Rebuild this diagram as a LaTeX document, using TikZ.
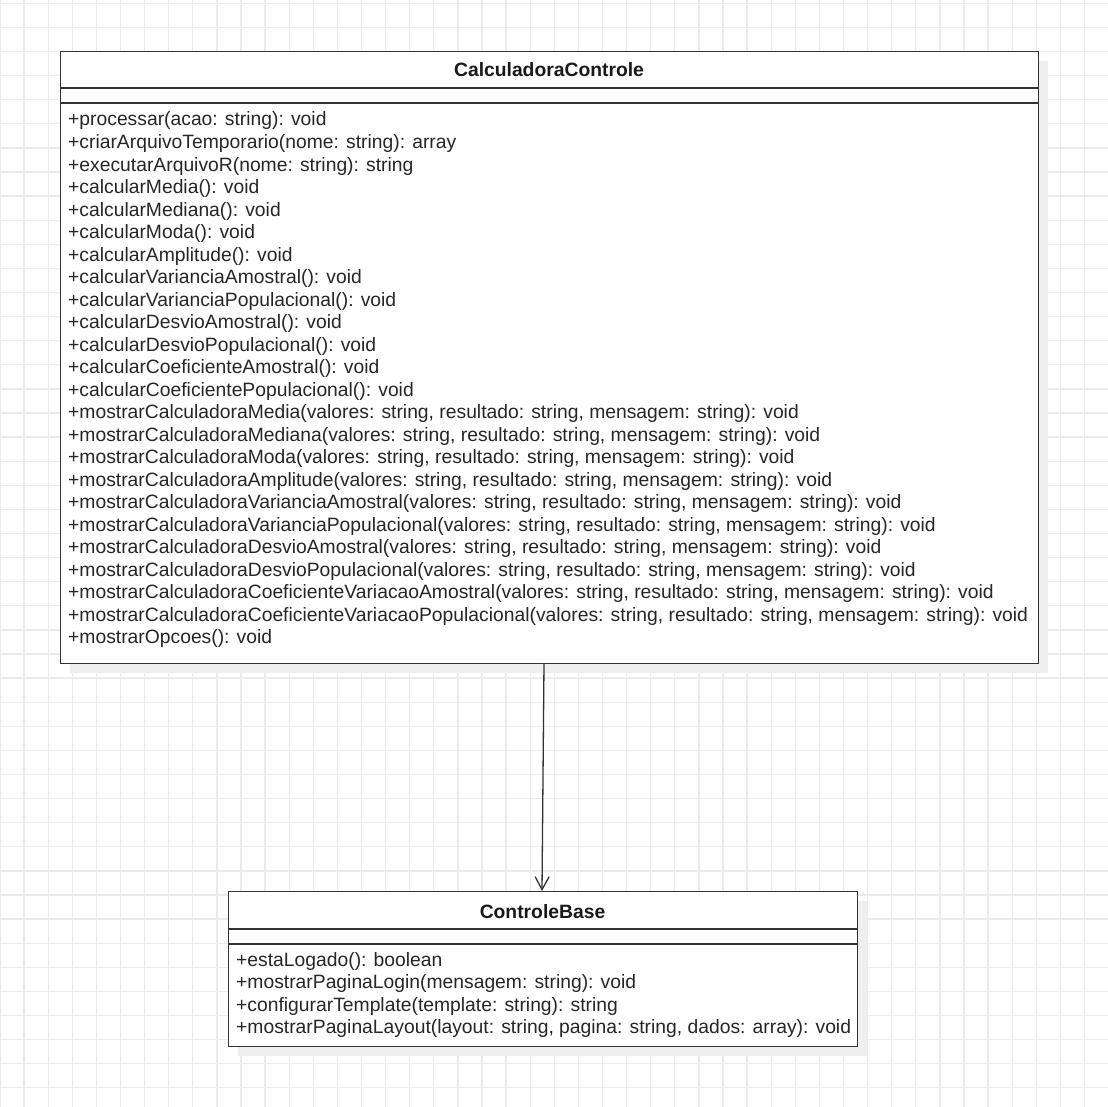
\documentclass[tikz,border=0pt]{standalone}
\usepackage{fontspec}
\setmainfont{Liberation Sans}
\usetikzlibrary{arrows.meta}
\definecolor{gridc}{HTML}{EBEBEB}
\definecolor{shadowc}{HTML}{EFEFEF}
\definecolor{linec}{HTML}{333333}
\tikzset{
  classbox/.style={draw=linec, line width=1.4pt, fill=white, inner sep=0pt, anchor=north west},
  member/.style={anchor=base west, inner sep=0pt, font=\fontsize{19.3}{22}\selectfont, text=black!85},
  title/.style={anchor=base, inner sep=0pt, font=\fontsize{19.3}{22}\selectfont\bfseries, text=black!90},
  sep/.style={draw=linec, line width=1.4pt},
  gridline/.style={draw=gridc, line width=1.3pt}
}
\begin{document}
\begin{tikzpicture}[x=1pt,y=-1pt]
\useasboundingbox (0,0) rectangle (1108,1107);
\fill[white] (0,0) rectangle (1108,1107);
% grid
\foreach \i in {0,...,46} {
  \draw[gridline] ({24.1*\i},0) -- ({24.1*\i},1107);
  \draw[gridline] (0,{3.3+24.1*\i}) -- (1108,{3.3+24.1*\i});
}
% shadows
\fill[shadowc] (70,61) rectangle (1048,673);
\fill[shadowc] (238,901) rectangle (867,1056);
% class boxes
\node[classbox, minimum width=978pt, minimum height=612pt] (cc) at (60,51) {};
\node[classbox, minimum width=629pt, minimum height=155pt] (cb) at (228,891) {};
\draw[sep] (60,88) -- (1038,88);
\draw[sep] (60,103) -- (1038,103);
\draw[sep] (228,929) -- (857,929);
\draw[sep] (228,944) -- (857,944);
% titles
\node[title] (cct) at (549,77) {CalculadoraControle};
\node[title] (cbt) at (542.5,918) {ControleBase};
% members
\foreach \t [count=\k from 0] in {
+processar(acao: string): void,
+criarArquivoTemporario(nome: string): array,
+executarArquivoR(nome: string): string,
+calcularMedia(): void,
+calcularMediana(): void,
+calcularModa(): void,
+calcularAmplitude(): void,
+calcularVarianciaAmostral(): void,
+calcularVarianciaPopulacional(): void,
+calcularDesvioAmostral(): void,
+calcularDesvioPopulacional(): void,
+calcularCoeficienteAmostral(): void,
+calcularCoeficientePopulacional(): void,
{+mostrarCalculadoraMedia(valores: string, resultado: string, mensagem: string): void},
{+mostrarCalculadoraMediana(valores: string, resultado: string, mensagem: string): void},
{+mostrarCalculadoraModa(valores: string, resultado: string, mensagem: string): void},
{+mostrarCalculadoraAmplitude(valores: string, resultado: string, mensagem: string): void},
{+mostrarCalculadoraVarianciaAmostral(valores: string, resultado: string, mensagem: string): void},
{+mostrarCalculadoraVarianciaPopulacional(valores: string, resultado: string, mensagem: string): void},
{+mostrarCalculadoraDesvioAmostral(valores: string, resultado: string, mensagem: string): void},
{+mostrarCalculadoraDesvioPopulacional(valores: string, resultado: string, mensagem: string): void},
{+mostrarCalculadoraCoeficienteVariacaoAmostral(valores: string, resultado: string, mensagem: string): void},
{+mostrarCalculadoraCoeficienteVariacaoPopulacional(valores: string, resultado: string, mensagem: string): void},
+mostrarOpcoes(): void}
{ \node[member] (ccm\k) at (68,{126+22.52*\k}) {\t}; }
\foreach \t [count=\k from 0] in {
+estaLogado(): boolean,
+mostrarPaginaLogin(mensagem: string): void,
+configurarTemplate(template: string): string,
{+mostrarPaginaLayout(layout: string, pagina: string, dados: array): void}}
{ \node[member] (cbm\k) at (236,{966+22.6*\k}) {\t}; }
% connector
\coordinate (a1) at (544,663);
\coordinate (a2) at (542,891);
\draw[linec, line width=1.3pt, -{Straight Barb[length=13pt,width=14pt,line width=1.3pt]}] (a1) -- (a2);
\end{tikzpicture}
\end{document}
